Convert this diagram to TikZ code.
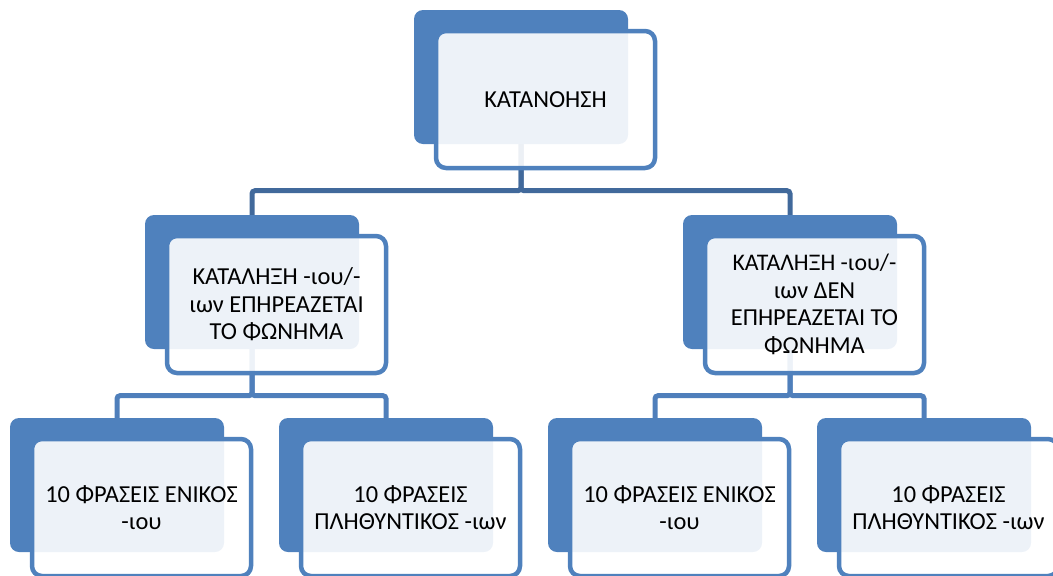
\documentclass[tikz,border=0pt]{standalone}
\usepackage{fontspec}
\setmainfont{Carlito}
\usetikzlibrary{backgrounds}
\definecolor{backblue}{HTML}{4F81BD}
\definecolor{linkdark}{HTML}{41699B}
\definecolor{linkblue}{HTML}{4F7FBB}
\tikzset{
  backbox/.style={draw=none, fill=backblue, rounded corners=9pt, minimum width=214pt, minimum height=134pt, inner sep=0pt},
  frontbox/.style={draw=backblue, line width=4.5pt, fill=white, fill opacity=0.9, text opacity=1, rounded corners=10pt, minimum width=219pt, minimum height=137pt, align=center, inner sep=0pt, text=black, font=\fontsize{24.4}{27.5}\selectfont},
  toplink/.style={draw=linkdark, line width=5pt, rounded corners=3pt},
  lowlink/.style={draw=linkblue, line width=5pt, rounded corners=3pt}
}
\newcommand\smartnode[4]{%
  \node[backbox] (#1-b) at (#2+107,#3+67) {};
  \node[frontbox] (#1) at (#2+131.5,#3+89.5) {#4};
}
\begin{document}
\begin{tikzpicture}[x=1pt,y=-1pt]
\useasboundingbox (0,0) rectangle (1053,576);
\smartnode{top}{414}{10}{ΚΑΤΑΝΟΗΣΗ}
\smartnode{ml}{145}{215}{ΚΑΤΑΛΗΞΗ -ιου/-\\ιων ΕΠΗΡΕΑΖΕΤΑΙ\\ΤΟ ΦΩΝΗΜΑ}
\smartnode{mr}{683}{215}{\fontsize{23.8}{25.5}\selectfont ΚΑΤΑΛΗΞΗ -ιου/-\\ιων ΔΕΝ\\ΕΠΗΡΕΑΖΕΤΑΙ ΤΟ\\ΦΩΝΗΜΑ}
\smartnode{b1}{10}{418}{10 ΦΡΑΣΕΙΣ ΕΝΙΚΟΣ\\-ιου}
\smartnode{b2}{279}{418}{10 ΦΡΑΣΕΙΣ\\ΠΛΗΘΥΝΤΙΚΟΣ -ιων}
\smartnode{b3}{548}{418}{10 ΦΡΑΣΕΙΣ ΕΝΙΚΟΣ\\-ιου}
\smartnode{b4}{817}{418}{10 ΦΡΑΣΕΙΣ\\ΠΛΗΘΥΝΤΙΚΟΣ -ιων}
\begin{scope}[on background layer]
  \draw[toplink] (top-b.south) -- ++(0,46.5) -| (ml-b.north);
  \draw[toplink] (top-b.south) -- ++(0,46.5) -| (mr-b.north);
  \draw[lowlink] (ml-b.south) -- ++(0,46.5) -| (b1-b.north);
  \draw[lowlink] (ml-b.south) -- ++(0,46.5) -| (b2-b.north);
  \draw[lowlink] (mr-b.south) -- ++(0,46.5) -| (b3-b.north);
  \draw[lowlink] (mr-b.south) -- ++(0,46.5) -| (b4-b.north);
\end{scope}
\end{tikzpicture}
\end{document}
